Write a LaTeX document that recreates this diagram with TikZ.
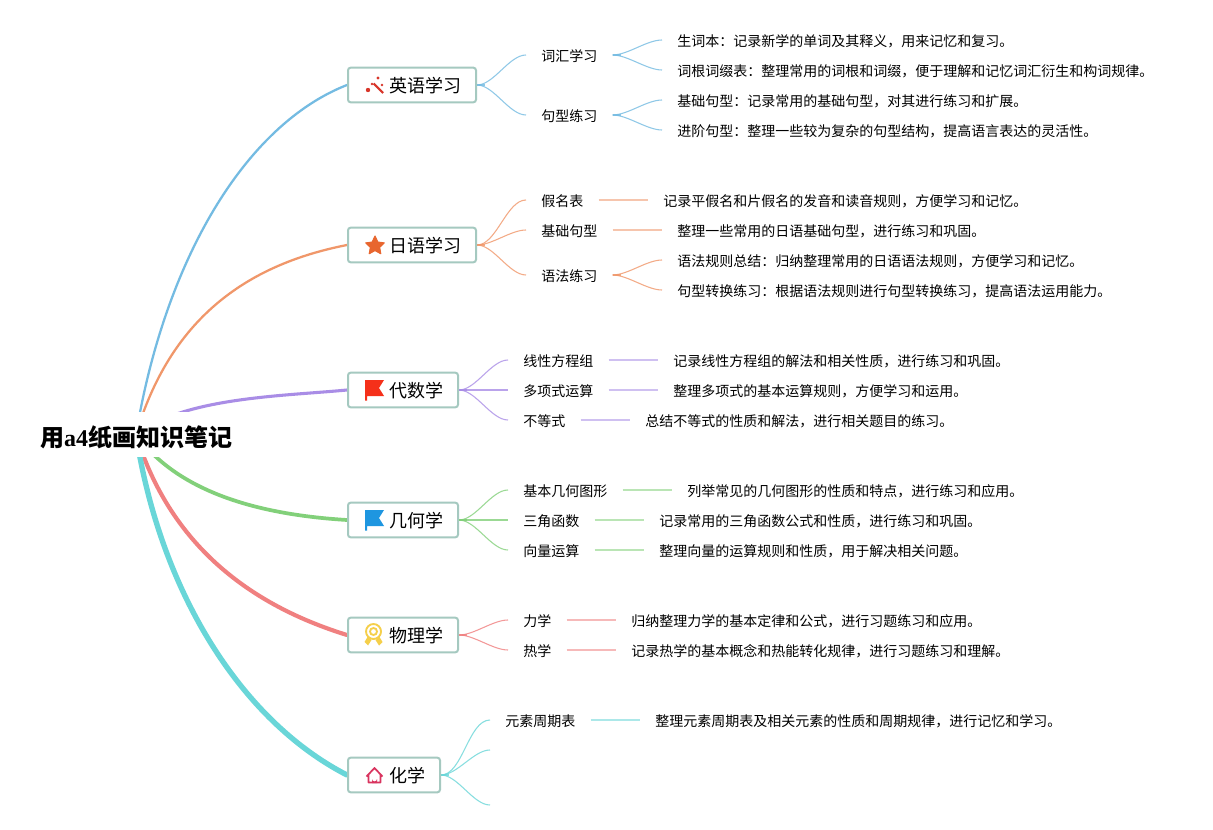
\documentclass[tikz,border=0pt]{standalone}
\usepackage{fontspec}
\setmainfont{Noto Sans CJK SC}
\newfontfamily\serifbold{Liberation Serif}
\usetikzlibrary{backgrounds}
\definecolor{cblue}{HTML}{74BBE2}
\definecolor{corange}{HTML}{F0976A}
\definecolor{cpurple}{HTML}{A98DE6}
\definecolor{cgreen}{HTML}{82D07A}
\definecolor{cred}{HTML}{F08080}
\definecolor{cteal}{HTML}{69D6D8}
\definecolor{cborder}{HTML}{A5C9C0}
\definecolor{iwand}{HTML}{D8362A}
\definecolor{istar}{HTML}{E8662F}
\definecolor{iflagr}{HTML}{F5301A}
\definecolor{iflagb}{HTML}{1E96E0}
\definecolor{imedal}{HTML}{F5CF4A}
\definecolor{ihouse}{HTML}{D9345F}
\tikzset{
  x=0.75pt,y=-0.75pt,
  rootnode/.style={fill=white,inner xsep=4.5pt,inner ysep=0pt,minimum height=33.75pt,text height=17.4pt,text depth=0pt,font=\fontsize{18pt}{20pt}\selectfont\bfseries},
  branchnode/.style={draw=cborder,line width=1.5pt,fill=white,rounded corners=2pt,anchor=west,inner xsep=11.25pt,inner ysep=0pt,minimum height=26pt,text height=11.8pt,text depth=0pt,font=\fontsize{13.5pt}{16pt}\selectfont},
  subnode/.style={anchor=west,inner xsep=11.25pt,inner ysep=0pt,minimum height=15pt,text height=9.5pt,text depth=0pt,font=\fontsize{10.5pt}{13pt}\selectfont},
  leafnode/.style={subnode},
  trunk/.style={line cap=round},
  twig/.style={line width=0.8pt,opacity=0.8},
  curve/.style={twig,out=0,in=180,looseness=0.75},
  stem/.style={line width=1.3pt,opacity=0.8},
  pale/.style={line width=1pt,opacity=0.55},
}
\newcommand{\iconpad}{\hspace{19.5pt}}
\begin{document}
\begin{tikzpicture}
\useasboundingbox (0,0) rectangle (1213,830);

\node[rootnode] (root) at (136,434.5) {用{\serifbold a4}纸画知识笔记};

% English
\node[branchnode,minimum width=96pt] (en) at (347,85) {\iconpad 英语学习};
\node[subnode] (en1) at (526,55) {词汇学习};
\node[subnode] (en2) at (526,115) {句型练习};
\node[leafnode] (en11) at (662,40) {生词本：记录新学的单词及其释义，用来记忆和复习。};
\node[leafnode] (en12) at (662,70) {词根词缀表：整理常用的词根和词缀，便于理解和记忆词汇衍生和构词规律。};
\node[leafnode] (en21) at (662,100) {基础句型：记录常用的基础句型，对其进行练习和扩展。};
\node[leafnode] (en22) at (662,130) {进阶句型：整理一些较为复杂的句型结构，提高语言表达的灵活性。};

% Japanese
\node[branchnode,minimum width=96pt] (ja) at (347,245) {\iconpad 日语学习};
\node[subnode] (ja1) at (526,200) {假名表};
\node[subnode] (ja2) at (526,230) {基础句型};
\node[subnode] (ja3) at (526,275) {语法练习};
\node[leafnode] (ja11) at (648,200) {记录平假名和片假名的发音和读音规则，方便学习和记忆。};
\node[leafnode] (ja21) at (662,230) {整理一些常用的日语基础句型，进行练习和巩固。};
\node[leafnode] (ja31) at (662,260) {语法规则总结：归纳整理常用的日语语法规则，方便学习和记忆。};
\node[leafnode] (ja32) at (662,290) {句型转换练习：根据语法规则进行句型转换练习，提高语法运用能力。};

% Algebra
\node[branchnode,minimum width=82.5pt] (al) at (347,390) {\iconpad 代数学};
\node[subnode] (al1) at (508,360) {线性方程组};
\node[subnode] (al2) at (508,390) {多项式运算};
\node[subnode] (al3) at (508,420) {不等式};
\node[leafnode] (al11) at (658,360) {记录线性方程组的解法和相关性质，进行练习和巩固。};
\node[leafnode] (al21) at (658,390) {整理多项式的基本运算规则，方便学习和运用。};
\node[leafnode] (al31) at (630,420) {总结不等式的性质和解法，进行相关题目的练习。};

% Geometry
\node[branchnode,minimum width=82.5pt] (ge) at (347,520) {\iconpad 几何学};
\node[subnode] (ge1) at (508,490) {基本几何图形};
\node[subnode] (ge2) at (508,520) {三角函数};
\node[subnode] (ge3) at (508,550) {向量运算};
\node[leafnode] (ge11) at (672,490) {列举常见的几何图形的性质和特点，进行练习和应用。};
\node[leafnode] (ge21) at (644,520) {记录常用的三角函数公式和性质，进行练习和巩固。};
\node[leafnode] (ge31) at (644,550) {整理向量的运算规则和性质，用于解决相关问题。};

% Physics
\node[branchnode,minimum width=82.5pt] (ph) at (347,635) {\iconpad 物理学};
\node[subnode] (ph1) at (508,620) {力学};
\node[subnode] (ph2) at (508,650) {热学};
\node[leafnode] (ph11) at (616,620) {归纳整理力学的基本定律和公式，进行习题练习和应用。};
\node[leafnode] (ph21) at (616,650) {记录热学的基本概念和热能转化规律，进行习题练习和理解。};

% Chemistry
\node[branchnode,minimum width=69pt] (ch) at (347,775) {\iconpad 化学};
\node[subnode] (ch1) at (490,720) {元素周期表};
\coordinate (ch2) at (490,750);
\coordinate (ch3) at (490,805);
\node[leafnode] (ch11) at (640,720) {整理元素周期表及相关元素的性质和周期规律，进行记忆和学习。};

% Icons
\draw[line width=1.6pt,color=iwand] (373.5,83.5) -- (383,93);
\fill[iwand] (368,90) circle (2.2) (378,78) circle (1.7) (382,85) circle (1.4) (372,84) circle (1.3);
\fill[istar,draw=istar,line join=round,line width=0.75pt]
  (375,236) -- (377.9,242) -- (384.3,242.9) -- (379.7,247.3) -- (380.8,253.8) -- (375,250.6) -- (369.2,253.8) -- (370.3,247.3) -- (365.7,242.9) -- (372.1,242) -- cycle;
\fill[iflagr] (365,380) -- (384,380) -- (379,388) -- (384,396) -- (367,396) -- (367,400.5) -- (365,400.5) -- cycle;
\fill[iflagb] (365,510) -- (384,510) -- (379,518) -- (384,526) -- (367,526) -- (367,530.5) -- (365,530.5) -- cycle;
\draw[imedal,line width=1.4pt] (373.5,631.5) circle (7.5) (373.5,631.5) circle (3.5);
\fill[imedal] (367.5,637) -- (371.5,640) -- (368,645.5) -- (364.5,642) -- cycle
  (379.5,637) -- (382.5,642) -- (379,645.5) -- (375.5,640) -- cycle;
\draw[ihouse,line width=1.3pt,line join=round] (366.5,776.5) -- (374.5,768) -- (382.5,776.5) (368.5,775) -- (368.5,782.5) -- (380.5,782.5) -- (380.5,775);
\fill[ihouse] (372,783) -- (372,779) arc[start angle=180,end angle=0,radius=2.5] -- (377,783) -- cycle;

\begin{scope}[on background layer]
  \fill[white] (0,0) rectangle (1213,830);
  \draw[trunk,cblue,line width=1.7pt] (root.center) .. controls (165,260) and (245,125) .. (en.west);
  \draw[trunk,corange,line width=1.7pt] (root.center) .. controls (170,320) and (245,265) .. (ja.west);
  \draw[trunk,cpurple,line width=2.3pt] (root.center) .. controls (185,397) and (285,396) .. (al.west);
  \draw[trunk,cgreen,line width=2.8pt] (root.center) .. controls (180,495) and (265,515) .. (ge.west);
  \draw[trunk,cred,line width=3.1pt] (root.center) .. controls (170,545) and (250,605) .. (ph.west);
  \draw[trunk,cteal,line width=4pt] (root.center) .. controls (160,590) and (240,720) .. (ch.west);

  \foreach \a/\b in {en/en1,en/en2,en1/en11,en1/en12,en2/en21,en2/en22}
    \draw[curve,cblue] (\a.east) to (\b.west);
  \foreach \a in {en,en1,en2}
    \draw[stem,cblue] (\a.east) -- ++(8,0);
  \foreach \a/\b in {ja/ja1,ja/ja2,ja/ja3,ja3/ja31,ja3/ja32}
    \draw[curve,corange] (\a.east) to (\b.west);
  \foreach \a in {ja,ja3}
    \draw[stem,corange] (\a.east) -- ++(8,0);
  \foreach \a/\b in {ja1/ja11,ja2/ja21}
    \draw[pale,corange] (\a.east) -- (\b.west);
  \foreach \a/\b in {al/al1,al/al2,al/al3}
    \draw[curve,cpurple] (\a.east) to (\b.west);
  \draw[stem,cpurple] (al.east) -- ++(8,0);
  \foreach \a/\b in {al1/al11,al2/al21,al3/al31}
    \draw[pale,cpurple] (\a.east) -- (\b.west);
  \foreach \a/\b in {ge/ge1,ge/ge2,ge/ge3}
    \draw[curve,cgreen] (\a.east) to (\b.west);
  \draw[stem,cgreen] (ge.east) -- ++(8,0);
  \foreach \a/\b in {ge1/ge11,ge2/ge21,ge3/ge31}
    \draw[pale,cgreen] (\a.east) -- (\b.west);
  \foreach \a/\b in {ph/ph1,ph/ph2}
    \draw[curve,cred] (\a.east) to (\b.west);
  \draw[stem,cred] (ph.east) -- ++(8,0);
  \foreach \a/\b in {ph1/ph11,ph2/ph21}
    \draw[pale,cred] (\a.east) -- (\b.west);
  \draw[curve,cteal] (ch.east) to (ch1.west);
  \draw[curve,cteal] (ch.east) to (ch2);
  \draw[curve,cteal] (ch.east) to (ch3);
  \draw[stem,cteal] (ch.east) -- ++(8,0);
  \draw[pale,cteal] (ch1.east) -- (ch11.west);
\end{scope}
\end{tikzpicture}
\end{document}
